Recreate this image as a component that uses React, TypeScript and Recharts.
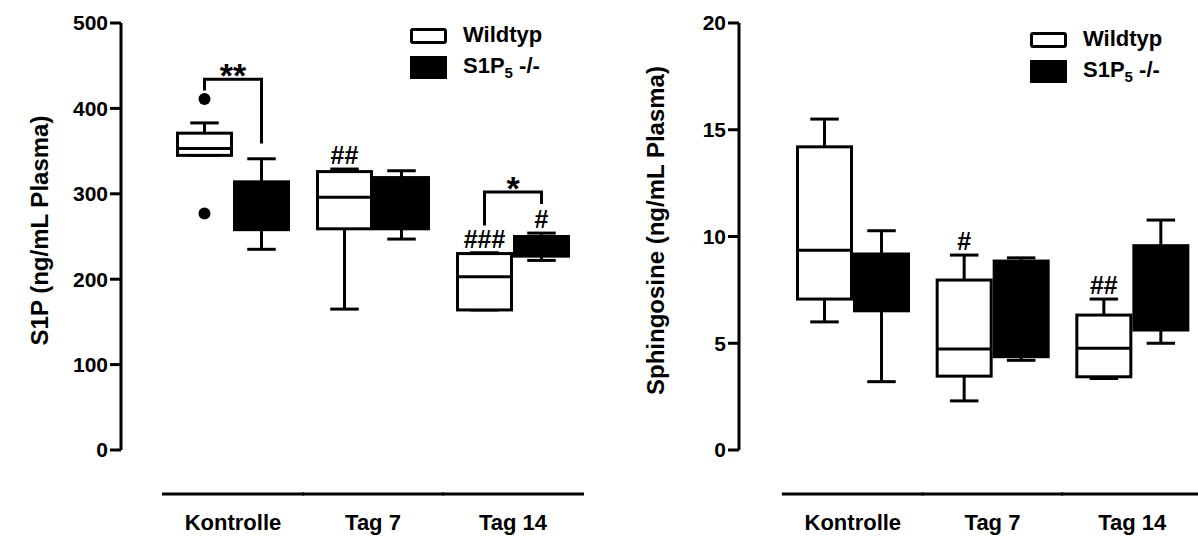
import React from 'react';
import { ComposedChart, Bar, XAxis, YAxis, Legend } from 'recharts';

const FONT = '"Liberation Sans", Arial, Helvetica, sans-serif';

const categories = ['Kontrolle', 'Tag 7', 'Tag 14'];
const seriesNames = ['Wildtyp', 'S1P5 -/-'];

// S1P (ng/mL Plasma)
const s1pTicks = [0, 100, 200, 300, 400, 500];
const s1pWtMin = [345, 165, 164];
const s1pWtQ1 = [345, 259, 164];
const s1pWtMedian = [353, 296, 203];
const s1pWtQ3 = [371, 326, 230];
const s1pWtMax = [383, 329, 231];
const s1pWtOutliers = [[411, 277], [], []];
const s1pKoMin = [235, 247, 222];
const s1pKoQ1 = [258, 259, 227];
const s1pKoMedian = [285, 290, 240];
const s1pKoQ3 = [314, 319, 250];
const s1pKoMax = [341, 327, 254];
const s1pWtHash = ['', '##', '###'];
const s1pKoHash = ['', '', '#'];
const s1pSigLabel = ['**', '', '*'];
const s1pSigTop = [434, 0, 302];
const s1pSigWtEnd = [421, 0, 263];
const s1pSigKoEnd = [359, 0, 288];

// Sphingosine (ng/mL Plasma)
const sphTicks = [0, 5, 10, 15, 20];
const sphWtMin = [6.0, 2.3, 3.35];
const sphWtQ1 = [7.07, 3.46, 3.43];
const sphWtMedian = [9.36, 4.73, 4.77];
const sphWtQ3 = [14.2, 7.96, 6.32];
const sphWtMax = [15.5, 9.13, 7.07];
const sphKoMin = [3.2, 4.2, 5.0];
const sphKoQ1 = [6.52, 4.37, 5.62];
const sphKoMedian = [8.0, 6.5, 7.5];
const sphKoQ3 = [9.18, 8.85, 9.57];
const sphKoMax = [10.27, 9.0, 10.77];
const sphWtHash = ['', '#', '##'];
const sphKoHash = ['', '', ''];

function makeRows(d: any) {
  return categories.map((cat, i) => ({
    cat,
    wtRange: [d.wtMin[i], d.wtMax[i]],
    koRange: [d.koMin[i], d.koMax[i]],
    wt: {
      min: d.wtMin[i], q1: d.wtQ1[i], median: d.wtMedian[i], q3: d.wtQ3[i], max: d.wtMax[i],
      outliers: d.wtOutliers ? d.wtOutliers[i] : [], hash: d.wtHash[i],
    },
    ko: {
      min: d.koMin[i], q1: d.koQ1[i], median: d.koMedian[i], q3: d.koQ3[i], max: d.koMax[i],
      outliers: [], hash: d.koHash[i],
    },
    sig: d.sigLabel && d.sigLabel[i]
      ? { label: d.sigLabel[i], top: d.sigTop[i], wtEnd: d.sigWtEnd[i], koEnd: d.sigKoEnd[i] }
      : null,
  }));
}

const s1pRows = makeRows({
  wtMin: s1pWtMin, wtQ1: s1pWtQ1, wtMedian: s1pWtMedian, wtQ3: s1pWtQ3, wtMax: s1pWtMax,
  wtOutliers: s1pWtOutliers, wtHash: s1pWtHash,
  koMin: s1pKoMin, koQ1: s1pKoQ1, koMedian: s1pKoMedian, koQ3: s1pKoQ3, koMax: s1pKoMax,
  koHash: s1pKoHash,
  sigLabel: s1pSigLabel, sigTop: s1pSigTop, sigWtEnd: s1pSigWtEnd, sigKoEnd: s1pSigKoEnd,
});

const sphRows = makeRows({
  wtMin: sphWtMin, wtQ1: sphWtQ1, wtMedian: sphWtMedian, wtQ3: sphWtQ3, wtMax: sphWtMax,
  wtHash: sphWtHash,
  koMin: sphKoMin, koQ1: sphKoQ1, koMedian: sphKoMedian, koQ3: sphKoQ3, koMax: sphKoMax,
  koHash: sphKoHash,
});

const SW = 3;

function BoxShape(props: any) {
  const { x, y, width, height, payload, which } = props;
  const s = payload[which];
  // bar spans [min, max]; map values linearly inside the bar's own pixel range
  const py = (v: number) => y + ((s.max - v) / (s.max - s.min)) * height;
  const cx = x + width / 2;
  const cap = width / 4;
  const filled = which === 'ko';
  const top = py(s.q3);
  const bot = py(s.q1);
  const sig = which === 'ko' ? payload.sig : null;
  const wtCx = x - width / 2;
  return (
    <g>
      <line x1={cx} x2={cx} y1={py(s.max)} y2={top} stroke="#000" strokeWidth={SW} />
      <line x1={cx} x2={cx} y1={bot} y2={py(s.min)} stroke="#000" strokeWidth={SW} />
      <line x1={cx - cap} x2={cx + cap} y1={py(s.max)} y2={py(s.max)} stroke="#000" strokeWidth={SW} />
      <line x1={cx - cap} x2={cx + cap} y1={py(s.min)} y2={py(s.min)} stroke="#000" strokeWidth={SW} />
      <rect
        x={x + SW / 2}
        y={top}
        width={width - SW}
        height={Math.max(bot - top, 0)}
        fill={filled ? '#000' : '#fff'}
        stroke="#000"
        strokeWidth={SW}
      />
      {!filled && (
        <line x1={x + SW / 2} x2={x + width - SW / 2} y1={py(s.median)} y2={py(s.median)} stroke="#000" strokeWidth={SW} />
      )}
      {s.outliers.map((o: number, i: number) => (
        <circle key={i} cx={cx} cy={py(o)} r={6} fill="#000" />
      ))}
      {s.hash && (
        <text x={cx} y={py(s.max) - 5} textAnchor="middle" fontFamily={FONT} fontWeight={700} fontSize={25} fill="#000">
          {s.hash}
        </text>
      )}
      {sig && (
        <g>
          <path
            d={`M${wtCx},${py(sig.wtEnd)} V${py(sig.top)} H${cx} V${py(sig.koEnd)}`}
            fill="none"
            stroke="#000"
            strokeWidth={SW}
          />
          <text x={(wtCx + cx) / 2} y={py(sig.top) + 8} textAnchor="middle" fontFamily={FONT} fontWeight={700} fontSize={34} fill="#000">
            {sig.label}
          </text>
        </g>
      )}
    </g>
  );
}

function CategoryTick(props: any) {
  const { x, y, payload, half } = props;
  return (
    <g>
      <line x1={x - half} x2={x + half} y1={y + 44} y2={y + 44} stroke="#000" strokeWidth={SW} />
      <text x={x} y={y + 80} textAnchor="middle" fontFamily={FONT} fontWeight={700} fontSize={22} fill="#000">
        {payload.value}
      </text>
    </g>
  );
}

function YTitle(props: any) {
  const { viewBox, text, gap } = props;
  const cx = viewBox.x + viewBox.width - gap;
  const cy = viewBox.y + viewBox.height / 2 - 6;
  return (
    <text
      x={cx}
      y={cy}
      transform={`rotate(-90 ${cx} ${cy})`}
      textAnchor="middle"
      dominantBaseline="central"
      fontFamily={FONT}
      fontWeight={700}
      fontSize={24}
      fill="#000"
    >
      {text}
    </text>
  );
}

function seriesLabel(name: string) {
  if (name.startsWith('S1P5')) {
    return (
      <>
        S1P<span style={{ fontSize: 15, position: 'relative', top: 5 }}>5</span>
        {name.slice(4)}
      </>
    );
  }
  return name;
}

function LegendBox({ payload }: any) {
  const items = [...(payload || [])].sort(
    (a: any, b: any) => seriesNames.indexOf(a.value) - seriesNames.indexOf(b.value)
  );
  return (
    <div style={{ position: 'relative', width: 180, height: 56, fontFamily: FONT, fontWeight: 700, fontSize: 22, color: '#000' }}>
      {items.map((e: any, i: number) => (
        <React.Fragment key={i}>
          <div
            style={{
              position: 'absolute',
              left: 0,
              top: i === 0 ? 0 : 28,
              width: 31,
              height: i === 0 ? 10 : 17,
              border: '3px solid #000',
              borderRadius: i === 0 ? 3 : 0,
              background: i === 0 ? '#fff' : '#000',
            }}
          />
          <div style={{ position: 'absolute', left: 53, top: i === 0 ? -6 : 25, lineHeight: '26px', whiteSpace: 'nowrap' }}>
            {seriesLabel(e.value)}
          </div>
        </React.Fragment>
      ))}
    </div>
  );
}

function Panel(props: any) {
  const { rows, ticks, domain, title, width, marginLeft, marginRight, padLeft, padRight, half, legendLeft, legendTop, titleGap } = props;
  return (
    <ComposedChart
      width={width}
      height={538}
      data={rows}
      margin={{ top: 23, right: marginRight, bottom: 0, left: marginLeft }}
      barCategoryGap={13}
      barGap={0}
    >
      <XAxis
        dataKey="cat"
        height={88}
        padding={{ left: padLeft, right: padRight }}
        axisLine={false}
        tickLine={false}
        tickSize={0}
        tickMargin={0}
        interval={0}
        tick={<CategoryTick half={half} />}
      />
      <YAxis
        domain={domain}
        ticks={ticks}
        interval={0}
        width={60}
        tickSize={11}
        tickMargin={2}
        axisLine={{ stroke: '#000', strokeWidth: SW }}
        tickLine={{ stroke: '#000', strokeWidth: SW }}
        tick={{ fill: '#000', fontSize: 21, fontWeight: 700, fontFamily: FONT }}
        label={{ content: (p: any) => <YTitle {...p} text={title} gap={titleGap} /> }}
      />
      <Legend
        layout="vertical"
        align="center"
        verticalAlign="middle"
        content={<LegendBox />}
        wrapperStyle={{ position: 'absolute', left: legendLeft, top: legendTop, width: 180, height: 56 }}
      />
      <Bar
        dataKey="wtRange"
        name={seriesNames[0]}
        fill="#fff"
        isAnimationActive={false}
        shape={(p: any) => <BoxShape {...p} which="wt" />}
      />
      <Bar
        dataKey="koRange"
        name={seriesNames[1]}
        fill="#000"
        isAnimationActive={false}
        shape={(p: any) => <BoxShape {...p} which="ko" />}
      />
    </ComposedChart>
  );
}

export default function App() {
  return (
    <div style={{ position: 'absolute', left: 0, top: 0, width: 1198, height: 538, overflow: 'hidden', background: '#fff' }}>
      <div style={{ position: 'absolute', left: 0, top: 0 }}>
        <Panel
          rows={s1pRows}
          ticks={s1pTicks}
          domain={[0, 500]}
          title="S1P (ng/mL Plasma)"
          width={600}
          marginLeft={61}
          marginRight={13}
          padLeft={42}
          padRight={4}
          half={71}
          legendLeft={410}
          legendTop={28}
          titleGap={82}
        />
      </div>
      <div style={{ position: 'absolute', left: 600, top: 0 }}>
        <Panel
          rows={sphRows}
          ticks={sphTicks}
          domain={[0, 20]}
          title="Sphingosine (ng/mL Plasma)"
          width={606}
          marginLeft={79}
          marginRight={2}
          padLeft={44}
          padRight={2}
          half={71}
          legendLeft={430}
          legendTop={32}
          titleGap={84}
        />
      </div>
    </div>
  );
}
